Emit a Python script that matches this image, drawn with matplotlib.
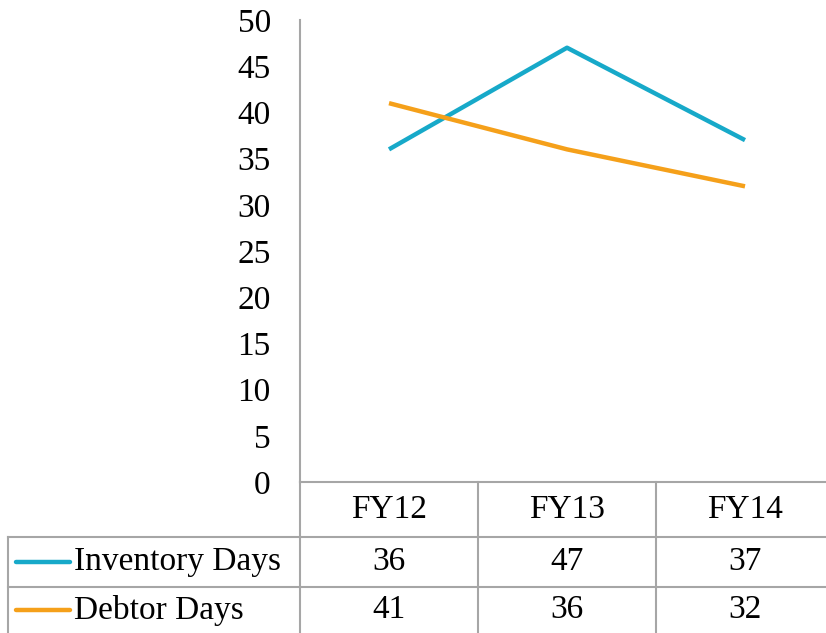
import matplotlib
matplotlib.use("Agg")
import matplotlib.pyplot as plt
from matplotlib.transforms import blended_transform_factory

categories = ["FY12", "FY13", "FY14"]
inventory_days = [36, 47, 37]
debtor_days = [41, 36, 32]
series_names = ["Inventory Days", "Debtor Days"]
y_ticks = list(range(0, 51, 5))

colors = ["#17A9C9", "#F5A01A"]
grid_color = "#A6A6A6"
plt.rcParams["font.family"] = ["Liberation Serif", "DejaVu Serif"]
FS = 24

W, H = 826, 633
fig = plt.figure(figsize=(W / 100, H / 100), dpi=100)

# overlay in pixel units for the data table
ov = fig.add_axes([0, 0, 1, 1], zorder=0)
ov.set_xlim(0, W)
ov.set_ylim(H, 0)
ov.axis("off")

x_left, y_top, y_zero = 300, 20, 482
ax = fig.add_axes([x_left / W, (H - y_zero) / H, (W - x_left) / W, (y_zero - y_top) / H], zorder=1)
ax.patch.set_alpha(0)
col_w = 178
ax.set_xlim(-0.5, -0.5 + (W - x_left) / col_w)
ax.set_ylim(0, 50)
ax.set_yticks(y_ticks)
ax.set_xticks([])
ax.tick_params(axis="y", length=0, pad=21, labelsize=FS)
for s in ["top", "right"]:
    ax.spines[s].set_visible(False)
for s in ["left", "bottom"]:
    ax.spines[s].set_color(grid_color)
    ax.spines[s].set_linewidth(1.5)

xs = list(range(len(categories)))
series = [inventory_days, debtor_days]
for vals, c in zip(series, colors):
    ax.plot(xs, vals, color=c, lw=3.2, solid_capstyle="butt")

# data table below the plot
tr = blended_transform_factory(ax.transData, ov.transData)
row_lines = [537, 587]
row_centers = [510, 562, 610]
for bx in [-0.5, 0.5, 1.5]:
    ov.plot([bx, bx], [y_zero, H], color=grid_color, lw=1.5, transform=tr, clip_on=False)
ov.plot([8, 8], [row_lines[0], H], color=grid_color, lw=1.5)
for ry in row_lines:
    ov.plot([8, W], [ry, ry], color=grid_color, lw=1.5)

for i, cat in enumerate(categories):
    ov.text(i, row_centers[0], cat, transform=tr, ha="center", va="center", fontsize=FS)
for r, (name, vals, c) in enumerate(zip(series_names, series, colors)):
    yc = row_centers[r + 1]
    ov.plot([16, 70], [yc, yc], color=c, lw=3.2, solid_capstyle="round")
    ov.text(74, yc, name, ha="left", va="center", fontsize=FS)
    for i, v in enumerate(vals):
        ov.text(i, yc, str(v), transform=tr, ha="center", va="center", fontsize=FS)

fig.savefig("out.png", dpi=100)
